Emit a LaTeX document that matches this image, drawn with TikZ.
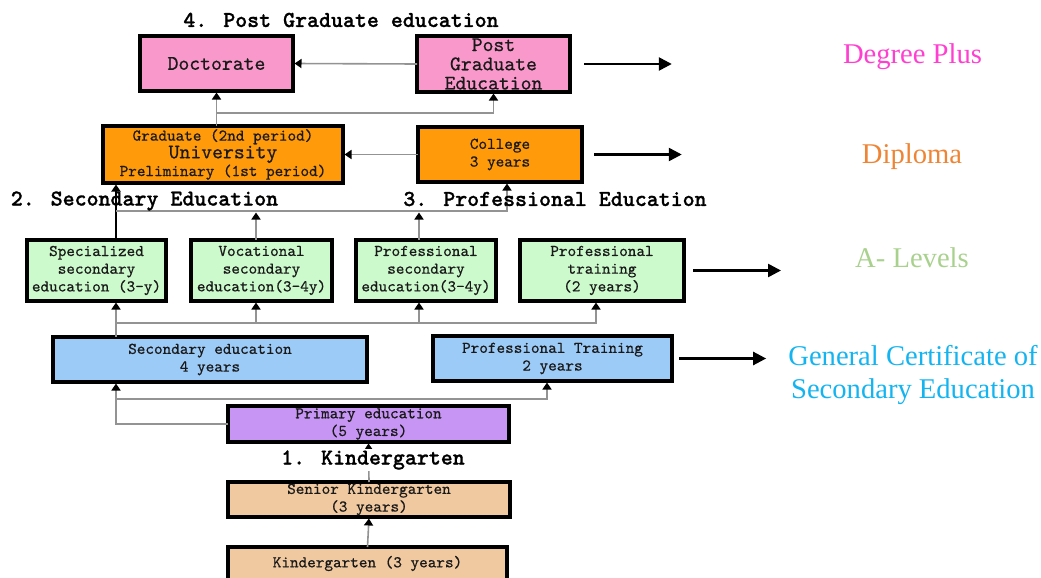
\documentclass[tikz,border=0pt]{standalone}
\usepackage{fontspec}
\setmainfont{Liberation Serif}
\newfontfamily\boxtt{lmmono10-regular.otf}[FakeBold=0.6]
\newfontfamily\titlett{lmmonolt10-bold.otf}[FakeBold=1]
\usetikzlibrary{arrows.meta}

\definecolor{pinkbox}{HTML}{F898CB}
\definecolor{orangebox}{HTML}{FF9A0A}
\definecolor{greenbox}{HTML}{CCFACC}
\definecolor{bluebox}{HTML}{9DCBF7}
\definecolor{purplebox}{HTML}{C796F5}
\definecolor{tanbox}{HTML}{F0C9A0}
\definecolor{degcol}{HTML}{FF3FD0}
\definecolor{dipcol}{HTML}{EE8434}
\definecolor{alvcol}{HTML}{A9D18E}
\definecolor{gcscol}{HTML}{14B4F0}

\begin{document}
\begin{tikzpicture}[
			x=1pt, y=-1pt,
			X/.style = {rectangle, draw, line width=3.2pt, fill=#1,% boxes of the scheme
				inner sep=0pt, outer sep=0pt, align=center, text=black!90,
				font=\boxtt\fontsize{16.4}{17.7}\selectfont},
			T/.style = {font=\titlett\fontsize{22.8}{24}\selectfont,
				inner sep=1pt},% stage titles
			L/.style = {font=\fontsize{28.6}{33}\selectfont,
				inner sep=0pt, align=center},% qualification on the right
			A/.style = {draw=gray!85, line width=1.6pt, shorten >=1.5pt,
				-{Triangle[width=9pt,length=7pt,color=black]}},
			R/.style = {draw, line width=2.5pt,
				-{Triangle[width=13pt,length=13pt]}},
			]
			\useasboundingbox (0,0) rectangle (1041,578);
			% 4. post graduate
			\node[X=pinkbox, minimum width=153pt, minimum height=55pt,
				font=\boxtt\fontsize{20.7}{19.2}\selectfont] (doc) at (216.5,63.5) {Doctorate};
			\node[X=pinkbox, minimum width=153pt, minimum height=56pt,
				font=\boxtt\fontsize{20.7}{19.2}\selectfont] (pg) at (493.5,64) {Post\\Graduate\\Education};
			% university and college
			\node[X=orangebox, minimum width=240pt, minimum height=57pt] (uni) at (223,154.5)
				{Graduate (2nd period)\\{\fontsize{20.7}{18.5}\selectfont University}\\Preliminary (1st period)};
			\node[X=orangebox, minimum width=164pt, minimum height=55pt] (col) at (500,154.5) {College\\3 years};
			% 2. and 3.
			\foreach \n/\x/\w/\t in {spec/96.5/139/{Specialized\\secondary\\education (3-y)},
				voc/261.5/141/{Vocational\\secondary\\education(3-4y)},
				psec/426/140/{Professional\\secondary\\education(3-4y)},
				ptrain/602/164/{Professional\\training\\(2 years)}}
			\node[X=greenbox, minimum width=\w pt, minimum height=61pt] (\n) at (\x,270.5) {\t};
			\node[X=bluebox, minimum width=314pt, minimum height=45pt] (sec) at (210,359.5) {Secondary education\\4 years};
			\node[X=bluebox, minimum width=239pt, minimum height=45pt] (ptr) at (552.5,358.5) {Professional Training\\2 years};
			% 1. kindergarten
			\node[X=purplebox, minimum width=281pt, minimum height=36pt] (prim) at (368.5,424) {Primary education\\(5 years)};
			\node[X=tanbox, minimum width=282pt, minimum height=35pt] (sen) at (369,499.5) {Senior Kindergarten\\(3 years)};
			\node[X=tanbox, minimum width=279pt, minimum height=33pt] (kg) at (367.5,563.5) {Kindergarten (3 years)};
			% junctions
			\coordinate (j1) at (216.5,113);
			\coordinate (s1) at (116,211);
			\coordinate (s2) at (507,211);
			\coordinate (v1) at (256,211);
			\coordinate (p1) at (419,211);
			\coordinate (s3) at (116,323);
			\coordinate (s4) at (596,323);
			\coordinate (v2) at (256,323);
			\coordinate (p2) at (419,323);
			\coordinate (s5) at (116,399);
			\coordinate (s6) at (547,399);
			\draw[A] (pg.west) -- (doc.east);
			\draw[A] (doc.south |- uni.north) -- (doc.south);
			\draw[A] (j1) -| (pg.south);
			\draw[A] (col.west) -- (uni.east);
			\draw[A, draw=black, line width=2.4pt] (s1 |- spec.north) -- (s1 |- uni.south);
			\draw[A] (s1) -- (s2) -- (s2 |- col.south);
			\draw[A] (v1 |- voc.north) -- (v1);
			\draw[A] (p1 |- psec.north) -- (p1);
			\draw[A] (s3 |- sec.north) -- (s3 |- spec.south);
			\draw[A] (s3) -- (s4) -- (s4 |- ptrain.south);
			\draw[A] (v2) -- (v2 |- voc.south);
			\draw[A] (p2) -- (p2 |- psec.south);
			\draw[A] (prim.west) -| (s5 |- sec.south);
			\draw[A] (s5) -- (s6) -- (s6 |- ptr.south);
			\draw[A] (sen.north) -- (prim.south);
			\draw[A] (kg.north) -- (sen.south);
			% stage titles
			\node[T] (t4) at (341,20) {4. Post Graduate education};
			\node[T] (t2) at (144.5,201) {2. Secondary Education};
			\node[T] (t3) at (555,199) {3. Professional Education};
			\node[T, fill=white] (t1) at (373,460) {1. Kindergarten};
			% qualifications
			\node[L, text=degcol] (deg) at (912.5,57) {Degree Plus};
			\node[L, text=dipcol] (dip) at (912,157) {Diploma};
			\node[L, text=alvcol] (alv) at (912,258) {A- Levels};
			\node[L, text=gcscol] (gcs) at (913,375) {General Certificate of\\Secondary Education};
			\foreach \a/\b/\s/\e in {pg/deg/14/171, col/dip/12/180, ptrain/alv/9/74, ptr/gcs/7/22}
			\draw[R, shorten <=\s pt, shorten >=\e pt] (\a.east) -- (\a.east -| \b.west);
		\end{tikzpicture}
\end{document}
